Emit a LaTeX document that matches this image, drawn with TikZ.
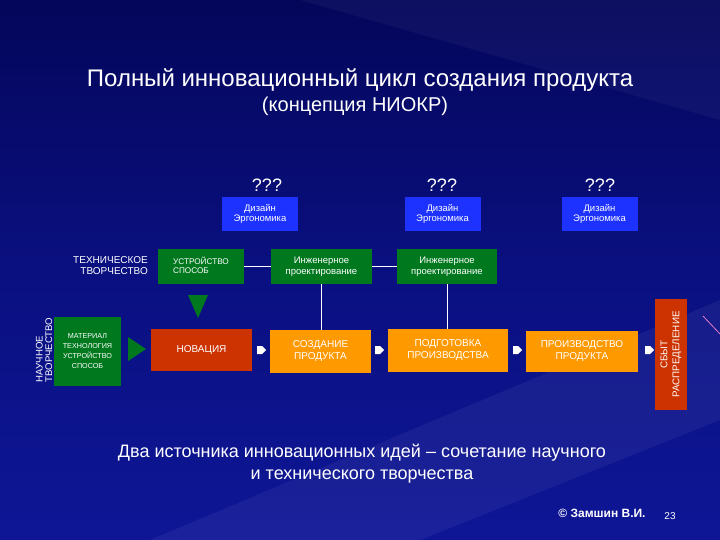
\documentclass[tikz,border=0pt]{standalone}
\usepackage{fontspec}
\setmainfont{Liberation Sans}
\usetikzlibrary{shapes.geometric}
\definecolor{bgdark}{RGB}{4,6,90}
\definecolor{bgmid}{RGB}{14,22,150}
\definecolor{bgblue}{RGB}{10,16,128}
\definecolor{boxblue}{RGB}{30,50,255}
\definecolor{boxgreen}{RGB}{0,120,30}
\definecolor{boxred}{RGB}{204,51,0}
\definecolor{boxorange}{RGB}{255,153,0}
\definecolor{streak}{RGB}{230,120,200}
\tikzset{
  box/.style={inner sep=0pt, text=white, align=center, font=\fontsize{9.5}{10.5}\selectfont},
  bluebox/.style={box, fill=boxblue, minimum width=76pt, minimum height=34pt},
  greenbox/.style={box, fill=boxgreen, minimum height=35pt},
  orangebox/.style={box, fill=boxorange, minimum height=42pt, font=\fontsize{10}{12}\selectfont},
  redbox/.style={box, fill=boxred},
  label/.style={text=white, inner sep=0pt, align=center},
  link/.style={draw=white, line width=0.8pt},
  flowarrow/.style={fill=white, draw=none},
  tri/.style={fill=boxgreen, draw=none}
}
\begin{document}
\begin{tikzpicture}[x=1pt,y=-1pt]
\useasboundingbox (0,0) rectangle (720,540);
% background
\shade[top color=bgdark, bottom color=bgmid, middle color=bgblue] (0,0) rectangle (720,540);
\fill[white, opacity=0.04] (300,0) -- (720,0) -- (720,120) -- cycle;
\fill[white, opacity=0.05] (150,540) -- (720,300) -- (720,420) -- (420,540) -- cycle;
\draw[streak, line width=0.8pt] (703,316) -- (720,334);
% title
\node[label, font=\fontsize{24}{27}\selectfont] (title) at (360,80) {Полный инновационный цикл создания продукта};
\node[label, font=\fontsize{20}{23}\selectfont] (subtitle) at (355,106) {(концепция НИОКР)};
% ??? and blue boxes
\node[label, font=\fontsize{18}{20}\selectfont] (q1) at (267,185) {???};
\node[label, font=\fontsize{18}{20}\selectfont] (q2) at (442,185) {???};
\node[label, font=\fontsize{18}{20}\selectfont] (q3) at (600,185) {???};
\node[bluebox] (d1) at (260,214) {Дизайн\\Эргономика};
\node[bluebox] (d2) at (442.5,214) {Дизайн\\Эргономика};
\node[bluebox] (d3) at (599.5,214) {Дизайн\\Эргономика};
% technical row
\node[label, align=right, font=\fontsize{10}{11}\selectfont, anchor=east] (tech) at (148,266) {ТЕХНИЧЕСКОЕ\\ТВОРЧЕСТВО};
\node[greenbox, minimum width=86pt, font=\fontsize{8.2}{9.5}\selectfont] (dev) at (201,266.5) {\begin{tabular}{@{}l@{}}УСТРОЙСТВО\\СПОСОБ\end{tabular}};
\node[greenbox, minimum width=101pt] (eng1) at (321.5,266.5) {Инженерное\\проектирование};
\node[greenbox, minimum width=100pt] (eng2) at (447,266.5) {Инженерное\\проектирование};
% science column
\node[label, rotate=90, align=left, font=\fontsize{9.6}{9.5}\selectfont] (sci) at (44,350) {НАУЧНОЕ\\ТВОРЧЕСТВО};
\node[box, fill=boxgreen, minimum width=67pt, minimum height=69pt, font=\fontsize{7.2}{10}\selectfont] (mat) at (87.5,351.5) {МАТЕРИАЛ\\ТЕХНОЛОГИЯ\\УСТРОЙСТВО\\СПОСОБ};
% main flow
\node[redbox, minimum width=101pt, minimum height=42pt, font=\fontsize{10}{12}\selectfont] (nov) at (201.5,350) {НОВАЦИЯ};
\node[orangebox, minimum width=101pt, minimum height=43pt] (cre) at (320.5,351.5) {СОЗДАНИЕ\\ПРОДУКТА};
\node[orangebox, minimum width=120pt, minimum height=43pt] (prep) at (448,350.5) {ПОДГОТОВКА\\ПРОИЗВОДСТВА};
\node[orangebox, minimum width=112pt, minimum height=41pt] (prod) at (582,351.5) {ПРОИЗВОДСТВО\\ПРОДУКТА};
\node[redbox, minimum width=32pt, minimum height=111pt] (sale) at (671,354.5) {};
\node[label, rotate=90, font=\fontsize{9.8}{12}\selectfont] (saletxt) at (sale.center) {СБЫТ\\РАСПРЕДЕЛЕНИЕ};
% connectors
\draw[link] (dev.east) -- (eng1.west);
\draw[link] (eng1.east) -- (eng2.west);
\draw[link] (eng1.south) -- (eng1.south |- cre.north);
\draw[link] (eng2.south) -- (eng2.south |- prep.north);
% green triangles
\coordinate (tdown) at (198,295);
\fill[tri] (tdown) ++(-10,0) -- ++(20,0) -- ++(-10,23) -- cycle;
\coordinate (tright) at (128,337);
\fill[tri] (tright) -- ++(18,12) -- ++(-18,12) -- cycle;
% small white arrows
\foreach \n/\x in {a1/257, a2/375, a3/513, a4/645}{
  \coordinate (\n) at (\x,350);
  \fill[flowarrow] (\n) ++(0,-4) -- ++(5,0) -- ++(4,4) -- ++(-4,4) -- ++(-5,0) -- cycle;
}
% bottom text
\node[label, font=\fontsize{18}{22}\selectfont] (concl) at (362,464) {Два источника инновационных идей – сочетание научного\\и технического творчества};
\node[label, font=\bfseries\fontsize{12}{14}\selectfont] (author) at (602,513) {© Замшин В.И.};
\node[label, font=\fontsize{10}{12}\selectfont] (page) at (670,516) {23};
\end{tikzpicture}
\end{document}
